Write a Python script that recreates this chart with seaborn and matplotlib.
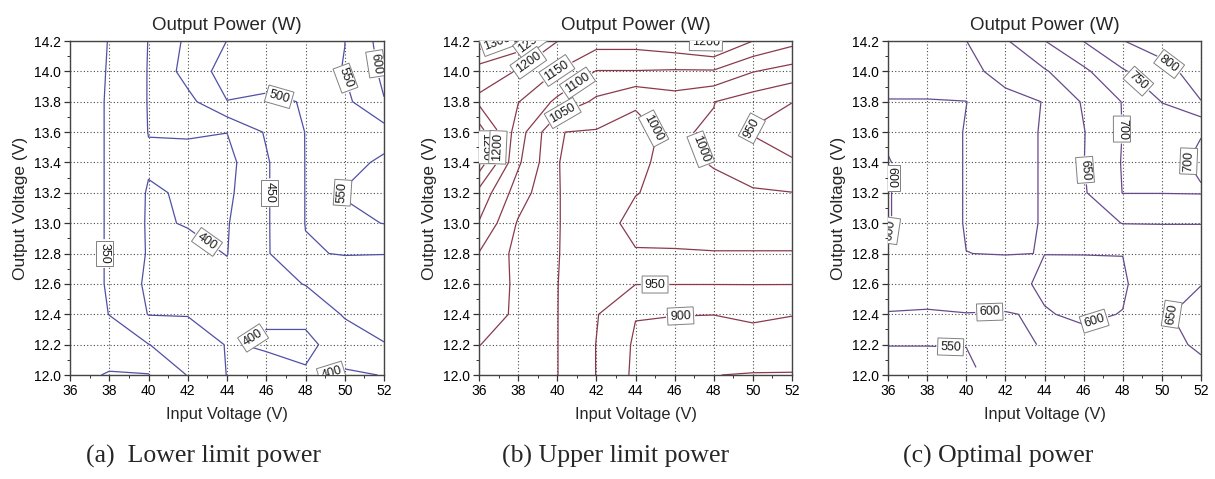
import numpy as np
import matplotlib
matplotlib.use("Agg")
import matplotlib.pyplot as plt
from matplotlib.ticker import MultipleLocator, FormatStrFormatter
import seaborn as sns

# Measurement grid
input_voltage = [36, 38, 40, 42, 44, 46, 48, 50, 52]
output_voltage = [12.0, 12.2, 12.4, 12.6, 12.8, 13.0, 13.2, 13.4, 13.6, 13.8, 14.0, 14.2]

# Output power (W); one row per output voltage (12.0 V first), one column per input voltage
power_lower = [
    [320, 295, 298, 352, 401, 410, 405, 395, 401],
    [325, 335, 349, 375, 402, 397, 390, 420, 449],
    [330, 350.5, 401.5, 402, 408, 403, 410, 455, 460],
    [330, 353, 410, 415, 410, 430, 452, 470, 470],
    [330, 353, 404, 410, 399, 445, 497, 502, 501],
    [330, 353, 405, 398, 397, 445, 501, 540, 551],
    [330, 353, 404, 396, 390, 445, 501, 553, 565],
    [330, 353, 395, 390, 385, 445, 501, 535, 558],
    [330, 353, 401, 403, 400.5, 455, 501, 530, 530],
    [330, 353, 402, 435, 499, 490, 503, 538, 598],
    [330, 352, 402, 470, 520, 525, 530, 552, 610],
    [330, 351, 401, 460, 500.5, 546, 549, 549.5, 620],
]

power_upper = [
    [1030, 1025, 1001, 949, 890, 880, 850.5, 848, 848],
    [1051, 1030, 1001, 949, 893, 885, 880, 875, 870],
    [1065, 1045, 1001, 953, 902, 901, 900.5, 910, 902],
    [1080, 1042, 1001, 962, 951, 951, 951, 951, 951],
    [1098, 1035, 1001, 985, 998, 998, 999, 999, 999],
    [1147, 1045, 1001, 988, 1008, 1010, 1010, 1010, 1010],
    [1185, 1075, 1001, 988, 999, 1008, 1008, 1003, 1001],
    [1280, 1108, 1001, 985, 995, 1008, 998, 985, 955],
    [1275, 1125, 1001, 996, 995, 1004, 996, 945, 925],
    [1190, 1152, 1090, 1040, 1002, 1025, 1001, 975, 951],
    [1225, 1197, 1148, 1098, 1098, 1095, 1095, 1052, 1030],
    [1330, 1280, 1201, 1170, 1170, 1185, 1210, 1150, 1115],
]

nan = float("nan")
power_optimal = [
    [530, 530, 540, nan, nan, 610, 625, 635, 640],
    [551, 551, 551, 580, 605, 610, 615, 640, 655],
    [599.5, 598, 599.5, 599, 602, 595, 601, 645, 665],
    [605, 610, 610, 610, 595, 590, 595, 630, 649],
    [600.5, 608, 600.1, 599.5, 600.2, 600.5, 600.5, 625, 625],
    [599, 610, 599, 590, 602, 630, 651, 651, 651],
    [599, 610, 599, 590, 602, 645, 701, 701, 702],
    [599, 610, 599, 590, 602, 649, 703, 708, 696],
    [603, 610, 599, 590, 602, 648, 701, 725, 701],
    [601, 601, 600.2, 590, 601, 655, 702, 751, 799],
    [590, 590, 590, 612, 645, 690, 745, 785, 820],
    [590, 590, 599.5, 645, 699, 751, 799, 820, 840],
]

levels_lower = [300, 350, 400, 450, 500, 550, 600]
levels_upper = [850, 900, 950, 1000, 1050, 1100, 1150, 1200, 1250, 1300]
levels_optimal = [550, 600, 650, 700, 750, 800]

# Where the inline value labels sit (input V, output V)
labels_lower = [(37.75, 12.8), (43.0, 12.88), (45.3, 12.25), (49.3, 12.02),
                (46.2, 13.2), (46.7, 13.85), (49.9, 13.95), (49.9, 13.2),
                (51.6, 14.05)]
labels_upper = [(37.0, 14.17), (38.7, 14.18), (38.5, 14.06), (39.9, 14.02),
                (41.0, 13.93), (40.3, 13.72), (45.2, 13.66), (47.6, 13.5),
                (50.0, 13.62), (45.0, 12.6), (46.3, 12.4), (47.6, 14.19),
                (36.3, 13.5), (36.9, 13.5)]
labels_optimal = [(50.5, 14.07), (48.9, 13.95), (47.95, 13.62), (51.2, 13.42),
                  (46.0, 13.35), (50.4, 12.4), (46.6, 12.33), (41.2, 12.42),
                  (39.2, 12.19), (36.18, 13.3), (36.18, 12.95)]

panel_title = "Output Power (W)"
x_label = "Input Voltage (V)"
y_label = "Output Voltage (V)"
captions = ["(a)  Lower limit power", "(b) Upper limit power", "(c) Optimal power"]
x_ticks = [36, 38, 40, 42, 44, 46, 48, 50, 52]
y_ticks = [12.0, 12.2, 12.4, 12.6, 12.8, 13.0, 13.2, 13.4, 13.6, 13.8, 14.0, 14.2]

sns.set_theme(style="ticks")
plt.rcParams["font.family"] = ["Liberation Sans", "DejaVu Sans"]
plt.rcParams["axes.edgecolor"] = "#444444"
plt.rcParams["axes.linewidth"] = 1.0

W, H = 1215, 479
fig = plt.figure(figsize=(W / 100, H / 100), dpi=100)
fig.patch.set_facecolor("white")

panels = [
    (70, 314, power_lower, levels_lower, labels_lower, "#5050a6", captions[0], 204),
    (479, 313, power_upper, levels_upper, labels_upper, "#8a3a4c", captions[1], 616),
    (888, 313, power_optimal, levels_optimal, labels_optimal, "#674a8c", captions[2], 998),
]

X, Y = np.meshgrid(np.array(input_voltage, float), np.array(output_voltage, float))

for left, width, data, levels, spots, color, caption, cap_x in panels:
    ax = fig.add_axes([left / W, 1 - 375 / H, width / W, 334 / H])
    ax.set_facecolor("white")
    Z = np.ma.masked_invalid(np.array(data, float))
    cs = ax.contour(X, Y, Z, levels=levels, colors=color, linewidths=0.9)
    texts = ax.clabel(cs, fmt="%d", fontsize=9, inline=True, inline_spacing=4,
                      manual=spots)
    for t in texts:
        t.set_color("#1a1a1a")
        t.set_bbox(dict(boxstyle="square,pad=0.2", facecolor="white",
                        edgecolor="#808080", linewidth=0.7))
        t.set_clip_on(True)

    ax.set_xlim(36, 52)
    ax.set_ylim(12.0, 14.2)
    ax.set_xticks(x_ticks)
    ax.set_yticks(y_ticks)
    ax.yaxis.set_major_formatter(FormatStrFormatter("%.1f"))
    ax.xaxis.set_minor_locator(MultipleLocator(1))
    ax.yaxis.set_minor_locator(MultipleLocator(0.1))
    ax.tick_params(which="major", direction="out", length=4, width=0.9,
                   labelsize=10, pad=2.5, colors="#333333", labelcolor="black")
    ax.tick_params(which="minor", direction="out", length=2, width=0.7,
                   colors="#333333")
    ax.grid(True, which="major", linestyle=(0, (1, 2)), color="#4a4a4a",
            linewidth=0.8)
    for s in ax.spines.values():
        s.set_visible(True)
        s.set_color("#444444")

    ax.set_title(panel_title, fontsize=13.5, pad=8)
    ax.set_xlabel(x_label, fontsize=11.8)
    ax.set_ylabel(y_label, fontsize=12.5)
    ax.xaxis.set_label_coords(0.5, -0.095)
    ax.yaxis.set_label_coords(-0.135, 0.5)

    fig.text(cap_x / W, 1 - 456 / H, caption, ha="center", va="center",
             fontsize=18.5, family=["Liberation Serif", "DejaVu Serif"])

fig.savefig("out.png", dpi=100, facecolor="white")
